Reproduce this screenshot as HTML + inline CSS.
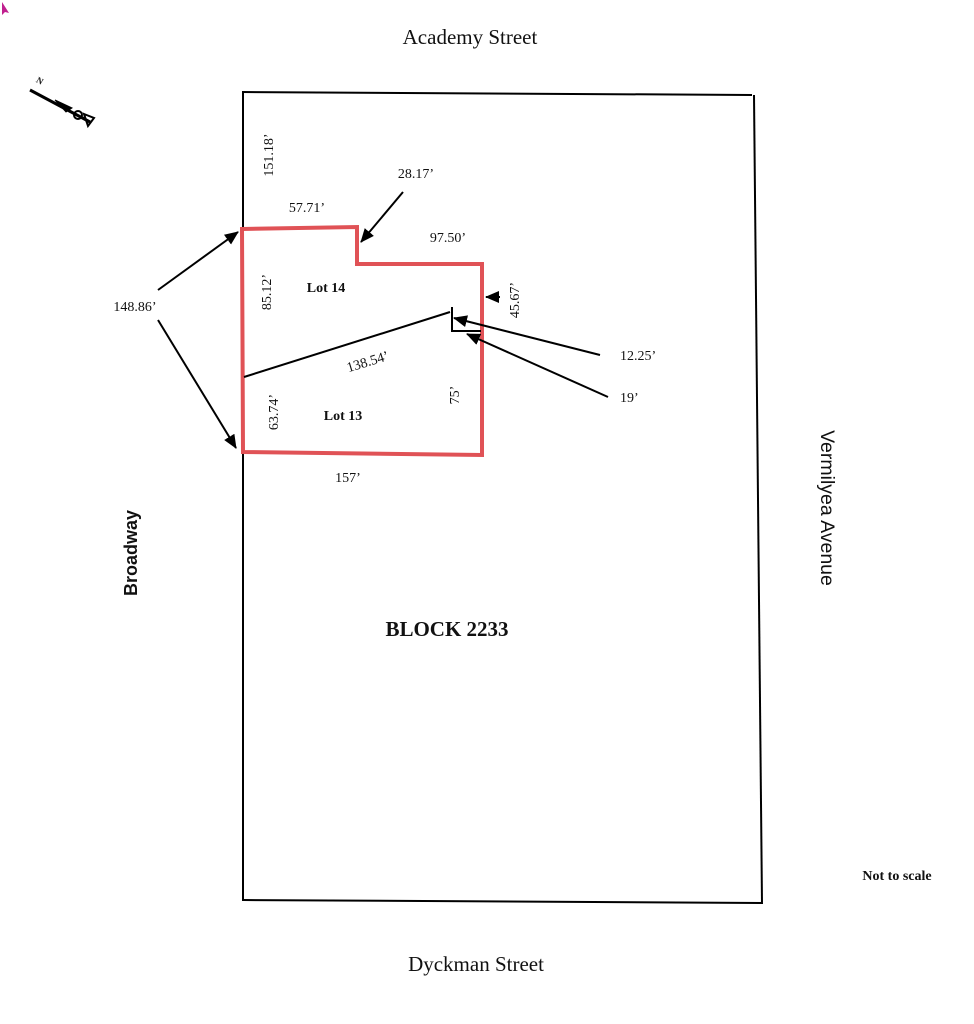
<!DOCTYPE html>
<html><head><meta charset="utf-8"><style>
html,body{margin:0;padding:0;background:#fff;}
svg{display:block;}
text{font-family:"Liberation Serif",serif;fill:#111;}
.s{font-family:"Liberation Sans",sans-serif;}
</style></head><body>
<svg width="974" height="1024" viewBox="0 0 974 1024" xmlns="http://www.w3.org/2000/svg">
<defs>
<marker id="ah" markerWidth="14" markerHeight="12" refX="13" refY="6" orient="auto" markerUnits="userSpaceOnUse">
<path d="M0,0 L14,6 L0,12 z" fill="#000"/></marker>
</defs>
<!-- cursor -->
<path d="M2,2 L2,15 L5,12 L9,13 Z" fill="#c0208f"/>
<!-- north arrow -->
<g stroke="#000" fill="#000">
<line x1="30" y1="90" x2="90" y2="122" stroke-width="3"/>
<path d="M55,100 L72,108 L66,112 Z"/>
<circle cx="78" cy="115" r="4" fill="none" stroke-width="2"/>
<path d="M84,114 L94,118 L88,126 Z" fill="none" stroke-width="2"/>
</g>
<text x="36" y="84" font-size="9" font-weight="bold" transform="rotate(30 40 82)">N</text>
<!-- block outline -->
<g stroke="#000" stroke-width="2" fill="none">
<line x1="242" y1="92" x2="752" y2="95"/>
<line x1="243" y1="92" x2="243" y2="901"/>
<line x1="754" y1="95" x2="762" y2="904"/>
<line x1="243" y1="900" x2="762" y2="903"/>
</g>
<!-- lots -->
<path d="M242,229 L357,227 L357,264 L482,264 L482,455 L243,452 Z" fill="none" stroke="#e05256" stroke-width="4"/>
<g stroke="#000" stroke-width="2" fill="none">
<line x1="244" y1="377" x2="450" y2="312"/>
<polyline points="452,307 452,331 481,331"/>
<line x1="158" y1="290" x2="238" y2="232" marker-end="url(#ah)"/>
<line x1="158" y1="320" x2="236" y2="448" marker-end="url(#ah)"/>
<line x1="403" y1="192" x2="361" y2="242" marker-end="url(#ah)"/>
<line x1="500" y1="297" x2="486" y2="297" marker-end="url(#ah)"/>
<line x1="600" y1="355" x2="454" y2="318" marker-end="url(#ah)"/>
<line x1="608" y1="397" x2="467" y2="334" marker-end="url(#ah)"/>
</g>
<!-- labels -->
<text x="470" y="44" font-size="21" text-anchor="middle">Academy Street</text>
<text x="476" y="971" font-size="21" text-anchor="middle">Dyckman Street</text>
<text x="447" y="636" font-size="21" font-weight="bold" text-anchor="middle">BLOCK 2233</text>
<text x="897" y="880" font-size="14" font-weight="bold" text-anchor="middle">Not to scale</text>
<text class="s" font-size="18" font-weight="bold" text-anchor="middle" transform="translate(137,553) rotate(-90)">Broadway</text>
<text class="s" font-size="19.5" text-anchor="middle" transform="translate(821,508) rotate(90)">Vermilyea Avenue</text>
<text x="135" y="311" font-size="14" text-anchor="middle">148.86’</text>
<text font-size="14" text-anchor="middle" transform="translate(273,155) rotate(-90)">151.18’</text>
<text x="307" y="212" font-size="14" text-anchor="middle">57.71’</text>
<text x="416" y="178" font-size="14" text-anchor="middle">28.17’</text>
<text x="448" y="242" font-size="14" text-anchor="middle">97.50’</text>
<text font-size="14" text-anchor="middle" transform="translate(271,292) rotate(-90)">85.12’</text>
<text x="326" y="292" font-size="14" font-weight="bold" text-anchor="middle">Lot 14</text>
<text font-size="14" text-anchor="middle" transform="translate(519,300) rotate(-90)">45.67’</text>
<text font-size="14" text-anchor="middle" transform="translate(369,366) rotate(-17)">138.54’</text>
<text x="620" y="360" font-size="14">12.25’</text>
<text x="620" y="402" font-size="14">19’</text>
<text font-size="14" text-anchor="middle" transform="translate(278,412) rotate(-90)">63.74’</text>
<text x="343" y="420" font-size="14" font-weight="bold" text-anchor="middle">Lot 13</text>
<text font-size="14" text-anchor="middle" transform="translate(459,395) rotate(-90)">75’</text>
<text x="348" y="482" font-size="14" text-anchor="middle">157’</text>
</svg>
</body></html>
